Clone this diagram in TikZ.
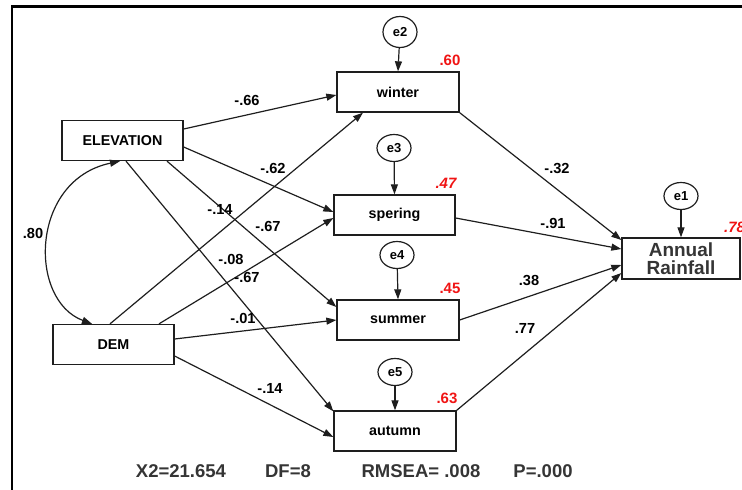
\documentclass[tikz,border=0pt]{standalone}
\usepackage{fontspec}
\setmainfont{Liberation Sans}
\usetikzlibrary{arrows.meta,shapes.geometric}
\definecolor{rsq}{RGB}{240,20,20}
\definecolor{ink}{RGB}{30,30,30}
\tikzset{
  var/.style={draw=ink, line width=1.3pt, fill=white, rectangle, inner sep=0pt,
              minimum width=121pt, minimum height=40pt, font=\fontsize{14.3}{16}\selectfont\bfseries},
  err/.style={draw=ink, line width=1.2pt, fill=white, ellipse, inner sep=0pt,
              minimum width=34pt, minimum height=27pt, font=\fontsize{13}{15}\selectfont\bfseries},
  path/.style={draw=ink, line width=1.2pt, -{Triangle[length=10pt,width=7pt]}},
  coef/.style={font=\fontsize{14.6}{16}\selectfont\bfseries, inner sep=0pt},
  rsqlab/.style={font=\fontsize{15}{17}\selectfont\bfseries, text=rsq, inner sep=0pt},
  fit/.style={font=\fontsize{18.5}{20}\selectfont\bfseries, text=ink!90, inner sep=0pt}
}
\begin{document}
\begin{tikzpicture}[x=1pt, y=-1pt]
\useasboundingbox (0,0) rectangle (742,490);
% frame
\draw[line width=2.6pt] (12,490) -- (12,6.5) -- (742,6.5);

% observed variables
\node[var] (elev) at (122.5,140.5) {ELEVATION};
\node[var] (dem) at (113.5,344.5) {DEM};
\node[var, minimum width=122pt] (winter) at (398,92) {winter};
\node[var] (spring) at (394.5,215) {spering};
\node[var, minimum width=122pt] (summer) at (398,320) {summer};
\node[var, minimum width=122pt] (autumn) at (395,431) {autumn};
\node[var, minimum width=118pt, minimum height=41pt, align=center,
      font=\fontsize{19}{18}\selectfont\bfseries, text=ink!90] (rain) at (681,258.5) {Annual\\Rainfall};

% error terms
\node[err, minimum height=31pt] (e2) at (400,32) {e2};
\node[err] (e3) at (394,148) {e3};
\node[err] (e4) at (397,255) {e4};
\node[err] (e5) at (395,372) {e5};
\node[err] (e1) at (681,196) {e1};

\draw[path] (e2) -- (winter.north);
\draw[path] (e3) -- (spring.north);
\draw[path] (e4) -- (summer.north);
\draw[path] (e5) -- (autumn.north);
\draw[path] (e1) -- (rain.north);

% correlation between the predictors
\draw[draw=ink, line width=1.2pt, {Triangle[length=10pt,width=7pt]}-{Triangle[length=10pt,width=7pt]}]
  ([xshift=-2.5pt]elev.south) .. controls (30,180) and (28,300) .. ([xshift=-21.5pt]dem.north);

% ELEVATION paths
\draw[path] ([yshift=11.5pt]elev.east) -- ([yshift=-3pt]winter.west);
\draw[path] ([yshift=-6.5pt]elev.east) -- ([yshift=3pt]spring.west);
\draw[path] ([xshift=44.5pt]elev.south) -- ([yshift=13pt]summer.west);
\draw[path] ([xshift=3.5pt]elev.south) -- ([yshift=-1pt]autumn.north west);

% DEM paths
\draw[path] ([xshift=-3.5pt]dem.north) -- ([xshift=-35pt]winter.south);
\draw[path] ([xshift=45.5pt]dem.north) -- ([yshift=-3pt]spring.west);
\draw[path] ([yshift=5.5pt]dem.east) -- (summer.west);
\draw[path] ([yshift=-11.5pt]dem.east) -- ([yshift=-6pt]autumn.west);

% seasonal paths to annual rainfall
\draw[path] (winter.south east) -- ([yshift=18.5pt]rain.west);
\draw[path] ([yshift=-3pt]spring.east) -- ([yshift=9.5pt]rain.west);
\draw[path] (summer.east) -- ([yshift=-6.5pt]rain.west);
\draw[path] (autumn.north east) -- ([yshift=-14.5pt]rain.west);

% standardized coefficients
\node[coef] (c1) at (247,100) {-.66};
\node[coef] (c2) at (273,168) {-.62};
\node[coef] (c3) at (220,209) {-.14};
\node[coef] (c4) at (268,226) {-.67};
\node[coef] (c5) at (231,259) {-.08};
\node[coef] (c6) at (247,277) {-.67};
\node[coef] (c7) at (243,318) {-.01};
\node[coef] (c8) at (270,388) {-.14};
\node[coef] (c9) at (33,233) {.80};
\node[coef] (c10) at (557,168) {-.32};
\node[coef] (c11) at (553,223) {-.91};
\node[coef] (c12) at (529,280) {.38};
\node[coef] (c13) at (525,328) {.77};

% squared multiple correlations
\node[rsqlab] (r1) at (450,60) {.60};
\node[rsqlab, font=\fontsize{15}{17}\selectfont\bfseries\itshape] (r2) at (446,183) {.47};
\node[rsqlab] (r3) at (450,288) {.45};
\node[rsqlab] (r4) at (447,398) {.63};
\node[rsqlab, anchor=west, font=\fontsize{15}{17}\selectfont\bfseries\itshape] (r5) at (724,227) {.78};

% fit indices
\node[fit] (f1) at (181,471) {X2=21.654};
\node[fit] (f2) at (288,471) {DF=8};
\node[fit] (f3) at (421,471) {RMSEA= .008};
\node[fit] (f4) at (543,471) {P=.000};
\end{tikzpicture}
\end{document}
